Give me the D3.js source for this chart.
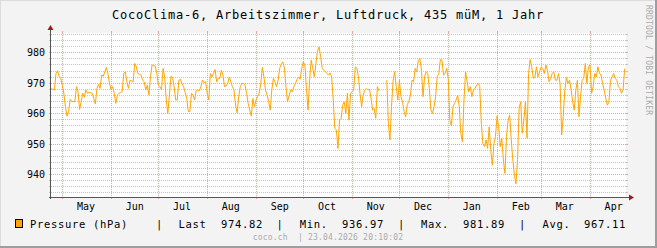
<!DOCTYPE html>
<html>
<head>
<meta charset="utf-8">
<script src="https://cdn.jsdelivr.net/npm/d3@7"></script>
<style>
  body { margin: 0; background: #f3f3f3; }
  svg { display: block; }
  text { font-family: "DejaVu Sans Mono", monospace; }
</style>
</head>
<body>
<svg id="chart" width="657" height="248"></svg>
<script>
// ---------------- data ----------------
const title = "CocoClima-6, Arbeitszimmer, Luftdruck, 435 müM, 1 Jahr";
const firstDay = Date.UTC(2025, 3, 24);          // one value per day from here
const rangeStart = Date.UTC(2025, 3, 23, 20, 10, 2);
const rangeEnd = Date.UTC(2026, 3, 23, 20, 10, 2);

// daily pressure in hPa, null = no data
const pressure = [
  968.3, 968, 967.8, 973.2, 974.1, 972.3, 971.6, 969.4, 966.7, 962.3,
  959.2, 960.7, 964.7, 964, 964, 964, 968.9, 967.2, 961.4, 964,
  966.7, 965.4, 967.8, 966.7, 967, 966.9, 966.7, 965, 963.2, 968.3,
  969.7, 968.3, 972.7, 972.3, 973.8, 975.2, 973.2, 969.9, 967.8, 968.9,
  966.7, 963.4, 966.1, 966.7, 967, 967.2, 973.2, 973.8, 970.5, 968.3,
  971, 970.7, 970.5, 976.5, 975.4, 973.2, 972.9, 972.7, 971, 970.5,
  967.8, 969.4, 966.1, 972.1, 976, 975.8, 975.6, 973.2, 969.4, 968.9,
  967.8, 974.9, 972, 964.5, 960.1, 966.1, 972.3, 971.9, 968.9, 964.5,
  964.5, 971, 971.3, 969.9, 968.9, 967, 965.1, 960.7, 960.7, 966.7,
  966.1, 964.5, 967.5, 967.8, 967.5, 968.9, 971, 970.2, 970.5, 966.7,
  964.5, 973.2, 972.1, 973.2, 974.5, 970.5, 971.6, 971.6, 974.3, 972.7,
  968.9, 969.1, 969.9, 972.1, 970.5, 968.9, 967.8, 962.8, 960.3, 965.6,
  968.9, 969.9, 969.9, 969.4, 966.7, 963.4, 961.2, 959.2, 965, 962.3,
  964.5, 965.6, 966.7, 969.9, 975.2, 972.1, 967.8, 966.1, 964, 961.2,
  967.8, 971.6, 970.5, 968.9, 971, 974.9, 976.3, 977, 975, 968.9,
  963.9, 966, 967.8, 967.2, 968.9, 969.9, 971.3, 971.9, 971.3, 974.9,
  977, 976, 968.3, 961.2, 971, 977.6, 974.9, 972.1, 976.5, 980.5,
  981.89, 978.7, 974.9, 974.3, 973.8, 973.2, 972.7, 973.4, 972.1, 964.5,
  955.2, 954.6, 948.6, 957.9, 958.5, 962.8, 963.9, 960.1, 966.7, 957.9,
  966.7, 967.2, 967.8, 975.4, 974.9, 972.1, 966.7, 962.3, 966.1, 967.8,
  968.3, 967.8, 968.1, 965.1, 961.2, 961.7, 958.5, 968.9, 967.5, null,
  null, null, null, 971, 956.8, 951.4, 962.3, 971, 973.8, 968.9,
  964.5, 971, 965.6, 963.9, 960.7, 959, 963, 964, 966.1, 971,
  970.5, 974.9, 973.8, 977.4, 978.1, 974.3, 965.6, 972.1, 973.8, 973.2,
  968.3, 961.2, 960.1, 962.3, 965.6, 972.1, 973.2, 977.8, 977.6, 972.7,
  973.2, 974.9, 971.6, 957.9, 956, 962.3, 963.4, 964.5, 966.1, 962.3,
  953.6, 950.8, 964.5, 973.8, 970.5, 967.2, 968.9, 965.6, 967.8, 968.3,
  969.4, 969.9, 968.9, 956.8, 950.2, 949.2, 951.4, 948.6, 955.7, 948,
  943.1, 950.2, 952.5, 959.2, 955.7, 949.2, 951.9, 944.8, 940.4, 952.5,
  957.9, 959.6, 951.4, 944.8, 940, 936.97, 945, 962, 963.9, 953.6,
  957.9, 964, 952, 973.2, 977.8, 975.4, 971.6, 971.9, 975.4, 972.1,
  973.8, 975.4, 974.9, 973.2, 976, 974.3, 970.5, 971.6, 973.2, 973.8,
  971, 971, 973.2, 969.9, 953, 959, 967.8, 971.9, 969.9, 971,
  967.8, 963.9, 961.2, 967.8, 971, 959, 965.6, 971, 971.6, 976.5,
  969.9, 975.4, 976, 966.7, 968.9, 973.2, 972.1, 975.4, 973.2, 972.7,
  969.9, 967.8, 965.1, 962.8, 963.9, 971, 972, 973.2, 971.6, 971,
  968.9, 968.3, 966.7, 967.8, 974.82
];

const yMajorTicks = [940, 950, 960, 970, 980];
const yMinorStep = 2;
const monthLabels = ["May", "Jun", "Jul", "Aug", "Sep", "Oct", "Nov", "Dec", "Jan", "Feb", "Mar", "Apr"];
const legendName = "Pressure (hPa)";
const legendStats = [["Last", "974.82"], ["Min.", "936.97"], ["Max.", "981.89"], ["Avg.", "967.11"]];
const footer = "coco.ch  | 23.04.2026 20:10:02";
const watermark = "RRDTOOL / TOBI OETIKER";

// ---------------- layout ----------------
const W = 657, H = 248;
const X0 = 51, X1 = 626, Y0 = 197, Y1 = 33;
const lineColor = "#ffa500";
const minorCol = "#c4c4c4";
const majorCol = "#e9a3a3";

const svg = d3.select("#chart");

// background + 3d frame
svg.append("rect").attr("width", W).attr("height", H).attr("fill", "#f3f3f3");
svg.append("path").attr("d", `M0,${H} V0 H${W}`).attr("fill", "none")
  .attr("stroke", "#dcdcdc").attr("stroke-width", 2);
svg.append("path").attr("d", `M${W},0 V${H} H0`).attr("fill", "none")
  .attr("stroke", "#9e9e9e").attr("stroke-width", 4);

// canvas
svg.append("rect").attr("x", X0).attr("y", Y1).attr("width", X1 - X0).attr("height", Y0 - Y1)
  .attr("fill", "#ffffff");

const x = d3.scaleUtc().domain([rangeStart, rangeEnd]).range([X0, X1]);
const y = d3.scaleLinear().domain([932.66, 986.5]).range([Y0, Y1]);
const px = v => Math.floor(v) + 0.5;

const grid = svg.append("g").attr("class", "grid");

// horizontal grid
const hVals = d3.range(934, 987, yMinorStep);
hVals.forEach(v => {
  const major = yMajorTicks.includes(v);
  const yy = px(y(v));
  const col = major ? majorCol : minorCol;
  grid.append("line").attr("x1", X0 - 2).attr("x2", X1 + 2).attr("y1", yy).attr("y2", yy)
    .attr("stroke", col).attr("stroke-dasharray", "1,1");
  grid.append("line").attr("x1", X0 - 2).attr("x2", X0).attr("y1", yy).attr("y2", yy).attr("stroke", col);
  grid.append("line").attr("x1", X1).attr("x2", X1 + 2).attr("y1", yy).attr("y2", yy).attr("stroke", col);
});

// vertical grid: month starts
const months = d3.utcMonth.range(new Date(rangeStart), new Date(rangeEnd));
months.forEach(m => {
  const xx = px(x(m));
  grid.append("line").attr("x1", xx).attr("x2", xx).attr("y1", Y1).attr("y2", Y0)
    .attr("stroke", majorCol).attr("stroke-dasharray", "1,1");
  grid.append("line").attr("x1", xx).attr("x2", xx).attr("y1", Y1 - 2).attr("y2", Y1).attr("stroke", majorCol);
  grid.append("line").attr("x1", xx).attr("x2", xx).attr("y1", Y0).attr("y2", Y0 + 2).attr("stroke", majorCol);
});

// month labels centred half a month after the start
svg.append("g").selectAll("text").data(months).enter().append("text")
  .attr("x", (d, i) => x(d.getTime() + 15 * 24 * 3600 * 1000))
  .attr("y", 210)
  .attr("text-anchor", "middle")
  .style("font-size", "10px")
  .attr("fill", "#000")
  .text((d, i) => monthLabels[i]);

// y labels
svg.append("g").selectAll("text").data(yMajorTicks).enter().append("text")
  .attr("x", 45).attr("y", d => px(y(d)) + 3.5)
  .attr("text-anchor", "end")
  .style("font-size", "10px")
  .attr("fill", "#000")
  .text(d => d);

// data line
const series = pressure.map((v, i) => ({ t: firstDay + i * 864e5, v }));
svg.append("path").datum(series)
  .attr("d", d3.line().defined(d => d.v != null).x(d => x(d.t)).y(d => y(d.v)))
  .attr("fill", "none")
  .attr("stroke", lineColor)
  .attr("stroke-width", 1)
  .attr("stroke-linejoin", "round");

// axes with arrows
const axisCol = "#555";
svg.append("line").attr("x1", X0 - 2).attr("x2", X1 + 4).attr("y1", Y0 + 0.5).attr("y2", Y0 + 0.5).attr("stroke", axisCol);
svg.append("line").attr("x1", X0 - 0.5).attr("x2", X0 - 0.5).attr("y1", Y0 + 2).attr("y2", Y1 - 4).attr("stroke", axisCol);
const arrowCol = "#9b1c1c";
svg.append("path").attr("d", `M${X1 + 3},${Y0 - 2.5} L${X1 + 8},${Y0 + 0.5} L${X1 + 3},${Y0 + 3.5} Z`).attr("fill", arrowCol);
svg.append("path").attr("d", `M${X0 - 3.5},${Y1 - 3} L${X0 - 0.5},${Y1 - 8} L${X0 + 2.5},${Y1 - 3} Z`).attr("fill", arrowCol);

// title
svg.append("text").attr("x", 328).attr("y", 18.5).attr("text-anchor", "middle")
  .style("font-size", "12px").style("letter-spacing", "0.78px").attr("fill", "#000")
  .text(title);

// legend
const lg = svg.append("g").style("font-size", "10.5px").style("letter-spacing", "0.68px").attr("fill", "#000");
lg.append("rect").attr("x", 15.5).attr("y", 219.5).attr("width", 7).attr("height", 8)
  .attr("fill", lineColor).attr("stroke", "#000");
lg.append("text").attr("x", 30).attr("y", 227.5).text(legendName);
const labelX = [178.5, 299.7, 421, 542.5];
const valueX = [221, 342, 463, 584];
const sepX = [159.5, 280, 401.5, 522.5];
legendStats.forEach((s, i) => {
  lg.append("text").attr("x", sepX[i]).attr("y", 227.5).attr("text-anchor", "middle").text("|");
  lg.append("text").attr("x", labelX[i]).attr("y", 227.5).text(s[0]);
  lg.append("text").attr("x", valueX[i]).attr("y", 227.5).text(s[1]);
});

// footer + watermark
svg.append("text").attr("x", 328).attr("y", 239.5).attr("text-anchor", "middle")
  .style("font-size", "8px").style("letter-spacing", "0.2px").attr("fill", "#aaaaaa")
  .style("white-space", "pre").attr("xml:space", "preserve")
  .text(footer);
svg.append("text").attr("transform", "translate(646,5) rotate(90)")
  .style("font-size", "8px").style("letter-spacing", "0.2px").attr("fill", "#aaaaaa")
  .text(watermark);
</script>
</body>
</html>
